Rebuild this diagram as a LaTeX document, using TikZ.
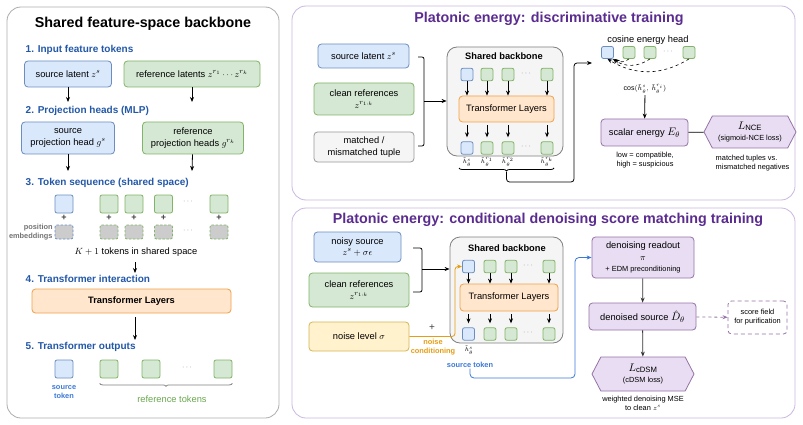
\documentclass[tikz,border=0pt]{standalone}
\usepackage{fontspec}
\setmainfont{Liberation Sans}
\usetikzlibrary{arrows.meta, shapes.symbols, decorations.pathreplacing}

\definecolor{bluefill}{HTML}{DAE8FC}
\definecolor{blueline}{HTML}{6C8EBF}
\definecolor{greenfill}{HTML}{D5E8D4}
\definecolor{greenline}{HTML}{82B366}
\definecolor{orangefill}{HTML}{FFE6CC}
\definecolor{orangeline}{HTML}{F0A04B}
\definecolor{purplefill}{HTML}{E8DDF2}
\definecolor{purpleline}{HTML}{9673A6}
\definecolor{yellowfill}{HTML}{FFF2CC}
\definecolor{yellowline}{HTML}{D6B656}
\definecolor{grayfill}{HTML}{F5F5F5}
\definecolor{grayline}{HTML}{999999}
\definecolor{headblue}{HTML}{2358A8}
\definecolor{titlepurple}{HTML}{5B2C8F}
\definecolor{panelpurple}{HTML}{CBB8E0}
\definecolor{noiseorange}{HTML}{E59D12}
\definecolor{reftext}{HTML}{6AA84F}
\definecolor{srctext}{HTML}{3C78D8}

\tikzset{
  panel/.style={rectangle, rounded corners=14pt, line width=0.8pt, fill=white},
  paneltitle/.style={font=\fontsize{14.3}{16}\selectfont\bfseries},
  sechead/.style={anchor=west, text=headblue, font=\fontsize{10}{12}\selectfont\bfseries},
  box/.style={rectangle, rounded corners=3.5pt, line width=0.8pt, align=center, inner sep=1pt, font=\fontsize{9.3}{11.5}\selectfont},
  bluebox/.style={box, draw=blueline, fill=bluefill},
  greenbox/.style={box, draw=greenline, fill=greenfill},
  graybox/.style={box, draw=grayline, fill=grayfill},
  orangebox/.style={box, draw=orangeline, fill=orangefill},
  purplebox/.style={box, draw=purpleline, fill=purplefill},
  yellowbox/.style={box, draw=yellowline, fill=yellowfill},
  lossbox/.style={box, shape=signal, signal to=east and west, signal pointer angle=125, draw=purpleline, fill=purplefill, rounded corners=0pt},
  backbone/.style={box, draw=gray, fill=grayfill, rounded corners=10pt},
  tok/.style={rectangle, rounded corners=2pt, line width=0.8pt, inner sep=0pt, minimum width=18pt, minimum height=18pt},
  srctok/.style={tok, draw=blueline, fill=bluefill},
  reftok/.style={tok, draw=greenline, fill=greenfill},
  postok/.style={tok, fill=black!20, dash pattern=on 2.5pt off 1.5pt, minimum height=14pt},
  smalltok/.style={minimum width=12pt, minimum height=12.5pt},
  textlab/.style={font=\fontsize{9.3}{11.5}\selectfont},
  note/.style={align=center, font=\fontsize{7.4}{9}\selectfont},
  boldnote/.style={align=center, font=\fontsize{7.4}{9}\selectfont\bfseries},
  hlab/.style={inner sep=0pt, font=\fontsize{5.8}{7}\selectfont},
  dotstext/.style={text=gray, font=\fontsize{8}{9}\selectfont},
  plussign/.style={text=black!75, font=\fontsize{9}{10}\selectfont\bfseries},
}

\begin{document}
\begin{tikzpicture}[x=1pt, y=-1pt, >={Stealth[length=5pt, width=4pt]}, line width=0.8pt]
\fill [white] (0,0) rectangle (803,425);
\useasboundingbox (0,0) rectangle (803,425);

% % left panel: shared backbone
\node (leftpanel) at (143,212.5) [panel, draw=grayline!80, minimum width=272pt, minimum height=411pt] {};
\node (lefttitle) at (143,24) [paneltitle] {Shared feature-space backbone};

\node (sec1) at (22,50) [sechead] {1. Input feature tokens};
\node (srclat) at (68,74) [bluebox, minimum width=87pt, minimum height=26pt] {source latent $z^s$};
\node (reflat) at (192,74) [greenbox, minimum width=136pt, minimum height=26pt] {reference latents $z^{r_1}\cdots z^{r_k}$};
\coordinate (srcstop) at (68,102);
\coordinate (refstop) at (192,102);
\draw [->] (srclat) -- (srcstop);
\draw [->] (reflat) -- (refstop);

\node (sec2) at (22,111) [sechead] {2. Projection heads (MLP)};
\node (srcproj) at (68,138) [bluebox, minimum width=93pt, minimum height=32pt] {source\\projection head $g^s$};
\node (refproj) at (193,138) [greenbox, minimum width=101pt, minimum height=32pt] {reference\\projection heads $g^{r_k}$};
\coordinate (srcstop2) at (68,171);
\coordinate (refstop2) at (192,171);
\draw [->] (srcproj) -- (srcstop2);
\draw [->] (refproj) -- (refstop2);

\node (sec3) at (22,183) [sechead] {3. Token sequence (shared space)};
\node (s0) at (64,204) [srctok] {};
\node (s1) at (109,204) [reftok] {};
\node (s2) at (134,204) [reftok] {};
\node (s3) at (163.5,204) [reftok] {};
\node (sdots) at (188,202) [dotstext] {$\cdots$};
\node (s4) at (219,204) [reftok] {};

\node (p0) at (64,217.5) [plussign] {+};
\node (p1) at (109,217.5) [plussign] {+};
\node (p2) at (134,217.5) [plussign] {+};
\node (p3) at (163.5,217.5) [plussign] {+};
\node (p4) at (219,217.5) [plussign] {+};

\node (e0) at (64,232) [postok, draw=blueline] {};
\node (e1) at (109,232) [postok, draw=greenline] {};
\node (e2) at (134,232) [postok, draw=greenline] {};
\node (e3) at (163.5,232) [postok, draw=greenline] {};
\node (edots) at (188,231) [dotstext] {$\cdots$};
\node (e4) at (219,232) [postok, draw=greenline] {};
\node (posemb) at (54,232) [boldnote, anchor=east, align=right, text=black!55, inner sep=1pt] {position\\embeddings};

\node (ktext) at (136,252) [textlab] {$K+1$ tokens in shared space};
\coordinate (kstop) at (135,273);
\draw [->, shorten <=2pt] (ktext.south -| kstop) -- (kstop);

\node (sec4) at (22,279) [sechead] {4. Transformer interaction};
\node (tfleft) at (131.5,301) [orangebox, minimum width=199pt, minimum height=24pt, font=\fontsize{9.3}{11.5}\selectfont\bfseries] {Transformer Layers};
\coordinate (tfstop) at (135,340);
\draw [->, shorten <=4pt] (tfleft.south -| tfstop) -- (tfstop);

\node (sec5) at (22,347) [sechead] {5. Transformer outputs};
\node (o0) at (64,369) [srctok] {};
\node (o1) at (109,369) [reftok] {};
\node (o2) at (151,369) [reftok] {};
\node (odots) at (187,368) [dotstext] {$\cdots$};
\node (o3) at (223,369) [reftok] {};
\node (srcname) at (64,392) [boldnote, text=srctext] {source\\token};
\draw [decorate, decoration={brace, mirror, amplitude=3pt}, draw=gray] ([yshift=-5pt]o1.south west) -- ([yshift=-5pt]o3.south east);
\node (refname) at (172,399) [textlab, text=reftext] {reference tokens};

% % top right panel: discriminative training
\node (toppanel) at (543.5,103) [panel, draw=panelpurple, minimum width=503pt, minimum height=194pt] {};
\node (toptitle) at (549,19) [paneltitle, text=titlepurple] {Platonic energy: discriminative training};

\node (dsrc) at (363.5,56) [bluebox, minimum width=91pt, minimum height=24pt] {source latent $z^s$};
\node (dref) at (364,99) [greenbox, minimum width=100pt, minimum height=32pt] {clean references\\$z^{r_{1:k}}$};
\node (dtuple) at (364,147) [graybox, minimum width=100pt, minimum height=30pt] {matched /\\mismatched tuple};
\coordinate (dbrtop) at (418,57);
\coordinate (dbrbot) at (418,146);
\coordinate (dbrmid) at (424,101);
\draw [rounded corners=2pt] (dbrtop) -| (dbrmid) |- (dbrbot);

\node (dbb) at (505,101.5) [backbone, minimum width=116pt, minimum height=109pt] {};
\draw [->] (dbrmid) -- (dbb.west |- dbrmid);
\node (dbbtitle) at (504,56) [textlab, font=\fontsize{9.3}{11.5}\selectfont\bfseries] {Shared backbone};
\node (dt0) at (467,74.5) [srctok, smalltok] {};
\node (dt1) at (487,74.5) [reftok, smalltok] {};
\node (dt2) at (508,74.5) [reftok, smalltok] {};
\node (dtdots) at (526,73.5) [dotstext] {$\cdots$};
\node (dt3) at (547,74.5) [reftok, smalltok] {};
\node (dtf) at (506.5,109) [orangebox, minimum width=95pt, minimum height=26pt] {Transformer Layers};
\node (db0) at (467,148) [srctok, smalltok] {};
\node (db1) at (487,148) [reftok, smalltok] {};
\node (db2) at (508,148) [reftok, smalltok] {};
\node (dbdots) at (526,147) [dotstext] {$\cdots$};
\node (db3) at (547,148) [reftok, smalltok] {};
\draw [->] (dt0) -- (dt0 |- dtf.north);
\draw [->] (dt1) -- (dt1 |- dtf.north);
\draw [->] (dt2) -- (dt2 |- dtf.north);
\draw [->] (dt3) -- (dt3 |- dtf.north);
\draw [->, shorten <=3pt, shorten >=4pt] (db0 |- dtf.south) -- (db0);
\draw [->, shorten <=3pt, shorten >=4pt] (db1 |- dtf.south) -- (db1);
\draw [->, shorten <=3pt, shorten >=4pt] (db2 |- dtf.south) -- (db2);
\draw [->, shorten <=3pt, shorten >=4pt] (db3 |- dtf.south) -- (db3);
\node (dh0) at (467,162) [hlab] {$\tilde h^s_\theta$};
\node (dh1) at (487,162) [hlab] {$\tilde h^{r_1}_\theta$};
\node (dh2) at (508,162) [hlab] {$\tilde h^{r_2}_\theta$};
\node (dh3) at (547,162) [hlab] {$\tilde h^{r_k}_\theta$};
\draw [decorate, decoration={brace, mirror, amplitude=3pt}] (459,168) -- (554,168);
\coordinate (dbrace) at (506.5,172);
\coordinate (dturn) at (574,182);
\coordinate (dcosin) at (592,63);
\draw [->, rounded corners=3pt] (dbrace) |- (dturn) |- (dcosin);

\node (cosname) at (648,40) [textlab] {cosine energy head};
\node (c0) at (607.5,52.5) [srctok, smalltok, minimum height=12pt] {};
\node (c1) at (629,52.5) [reftok, smalltok, minimum height=12pt] {};
\node (c2) at (650,52.5) [reftok, smalltok, minimum height=12pt] {};
\node (cdots) at (668,51.5) [dotstext] {$\cdots$};
\node (c3) at (689,52.5) [reftok, smalltok, minimum height=12pt] {};
\draw [->, dashed, line width=0.6pt] (c1.south) to [bend left=40] ([xshift=1pt]c0.south east);
\draw [->, dashed, line width=0.6pt] (c2.south) to [bend left=35] ([xshift=-1pt]c0.south east);
\draw [->, dashed, line width=0.6pt] (c3.south) to [bend left=32] (c0.south);
\node (coslab) at (645,89) [inner sep=1pt, font=\fontsize{7}{8}\selectfont] {$\cos(\tilde h^s_\theta,\,\tilde h^{r_i}_\theta)$};
\node (energy) at (644.5,132.5) [purplebox, minimum width=87pt, minimum height=27pt] {scalar energy {\fontsize{11}{12}\selectfont$E_\theta$}};
\draw [->] (coslab) -- (energy);
\node (enote) at (645,160) [note] {low = compatible,\\high = suspicious};
\node (nce) at (750,132) [lossbox, minimum width=92pt, minimum height=32pt] {{\fontsize{11}{12}\selectfont$L_{\mathrm{NCE}}$}\\{\fontsize{7.4}{9}\selectfont(sigmoid-NCE loss)}};
\draw (energy) -- (nce);
\node (ncenote) at (712,163) [note, anchor=west, align=left] {matched tuples vs.\\mismatched negatives};

% % bottom right panel: denoising score matching
\node (botpanel) at (543.5,313) [panel, draw=panelpurple, minimum width=503pt, minimum height=210pt] {};
\node (bottitle) at (548,220) [paneltitle, text=titlepurple] {Platonic energy: conditional denoising score matching training};

\node (nsrc) at (357.5,247) [bluebox, minimum width=87pt, minimum height=30pt] {noisy source\\$z^s+\sigma\epsilon$};
\node (nref) at (359,290) [greenbox, minimum width=100pt, minimum height=34pt] {clean references\\$z^{r_{1:k}}$};
\node (nlevel) at (359,336.5) [yellowbox, minimum width=100pt, minimum height=29pt] {noise level $\sigma$};
\coordinate (nbrtop) at (413,248);
\coordinate (nbrbot) at (413,292);
\coordinate (nbrmid) at (422,269);
\draw [rounded corners=2pt] (nbrtop) -| (nbrmid) |- (nbrbot);

\node (nbb) at (506.5,290) [backbone, minimum width=113pt, minimum height=106pt] {};
\draw [->] (nbrmid) -- (nbb.west |- nbrmid);
\node (nbbtitle) at (507,248) [textlab, font=\fontsize{9.3}{11.5}\selectfont\bfseries] {Shared backbone};
\node (nt0) at (468.5,266.5) [srctok, smalltok] {};
\node (nt1) at (490,266.5) [reftok, smalltok] {};
\node (nt2) at (511,266.5) [reftok, smalltok] {};
\node (ntdots) at (528,265.5) [dotstext] {$\cdots$};
\node (nt3) at (549,266.5) [reftok, smalltok] {};
\node (ntf) at (509,297.5) [orangebox, minimum width=98pt, minimum height=27pt] {Transformer Layers};
\node (nb0) at (468.5,334) [srctok, smalltok] {};
\node (nb1) at (490,334) [reftok, smalltok] {};
\node (nb2) at (511,334) [reftok, smalltok] {};
\node (nbdots) at (528,333) [dotstext] {$\cdots$};
\node (nb3) at (549,334) [reftok, smalltok] {};
\draw [->] (nt0) -- (nt0 |- ntf.north);
\draw [->] (nt1) -- (nt1 |- ntf.north);
\draw [->] (nt2) -- (nt2 |- ntf.north);
\draw [->] (nt3) -- (nt3 |- ntf.north);
\draw [->, shorten <=3pt, shorten >=4pt] (nb0 |- ntf.south) -- (nb0);
\draw [->, shorten <=3pt, shorten >=4pt] (nb1 |- ntf.south) -- (nb1);
\draw [->, shorten <=3pt, shorten >=4pt] (nb2 |- ntf.south) -- (nb2);
\draw [->, shorten <=3pt, shorten >=4pt] (nb3 |- ntf.south) -- (nb3);
\node (nh0) at (469,350) [hlab] {$\tilde h^s_\theta$};
\node (srcname2) at (470,364.5) [boldnote, inner sep=1pt, text=srctext] {source token};

\coordinate (nturn) at (455,336.5);
\draw [->, noiseorange, rounded corners=3pt] (nlevel) -- (nturn) |- (nt0.west);
\node (nplus) at (432,328) [plussign, font=\fontsize{10}{11}\selectfont] {+};
\node (ncond) at (433,347.5) [boldnote, text=noiseorange] {noise\\conditioning};

\node (readout) at (643,257.5) [purplebox, minimum width=102pt, minimum height=41pt] {denoising readout\\$\pi$\\{\fontsize{7.4}{9}\selectfont + EDM preconditioning}};
\node (denoised) at (642.5,316.5) [purplebox, minimum width=107pt, minimum height=27pt] {denoised source {\fontsize{11}{12}\selectfont$\hat D_\theta$}};
\node (score) at (757.5,317.5) [box, dash pattern=on 4pt off 3pt, draw=purpleline, minimum width=59pt, minimum height=33pt, font=\fontsize{7.4}{9}\selectfont] {score field\\for purification};
\node (cdsm) at (643,374) [lossbox, minimum width=102pt, minimum height=34pt] {{\fontsize{11}{12}\selectfont$L_{\mathrm{cDSM}}$}\\{\fontsize{7.4}{9}\selectfont(cDSM loss)}};
\node (cdsmnote) at (643,403) [note] {weighted denoising MSE\\to clean $z^s$};
\draw [->, black!80] (readout) -- (denoised);
\draw [->, black!80] (denoised) -- (cdsm);
\draw [->, purpleline, dashed] (denoised) -- (score);

\coordinate (bturn) at (575,378);
\draw [->, srctext, rounded corners=4pt] (srcname2.south) |- (bturn) |- (readout.west);
\end{tikzpicture}
\end{document}
